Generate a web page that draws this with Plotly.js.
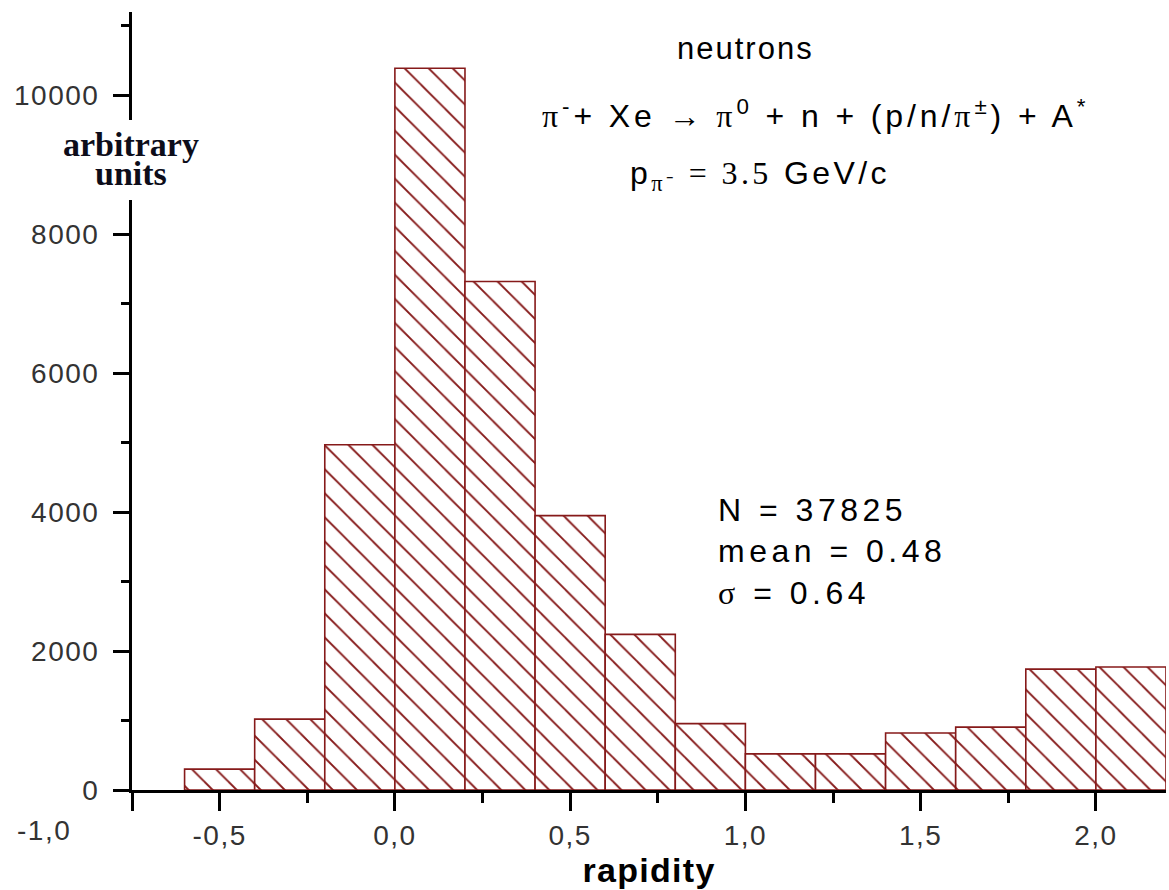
<!DOCTYPE html>
<html><head><meta charset="utf-8">
<script src="https://cdn.plot.ly/plotly-3.0.1.min.js"></script>
<style>html,body{margin:0;padding:0;background:#fff;}</style>
</head><body><div id="chart" style="width:1169px;height:890px;"></div>
<script>
// ---- data ----
const binStarts = [-0.6,-0.4,-0.2,0.0,0.2,0.4,0.6,0.8,1.0,1.2,1.4,1.6,1.8,2.0];
const binWidth = 0.2;
const counts = [300,1020,4970,10390,7320,3950,2240,955,520,520,820,905,1740,1770];
const xTickValues = [-0.75,-0.5,0,0.5,1,1.5,2];
const xTickLabels = ["","-0,5","0,0","0,5","1,0","1,5","2,0"];
const xOffLabelValue = -1.0;
const xOffLabelText = "-1,0";
const yTickValues = [0,2000,4000,6000,8000,10000];
const yTickLabels = ["0","2000","4000","6000","8000","10000"];
const xRange = [-0.75, 2.2];
const yRange = [0, 11200];

// ---- layout helpers ----
const W = 1169, H = 890;
const M = {l:132, r:3, t:12, b:100};
const PW = W - M.l - M.r, PH = H - M.t - M.b;
const px = x => (x - M.l) / PW;
const py = y => (H - M.b - y) / PH;
const ls = (t, s) => "<span style='letter-spacing:" + s + "px'>" + t + "</span>";

const barColor = "#861a1a";
const binCenters = binStarts.map(s => s + binWidth/2);

const trace = {
  type: "bar",
  x: binCenters,
  y: counts,
  width: binStarts.map(() => binWidth),
  marker: {
    color: "white",
    line: {color: barColor, width: 1.6},
    pattern: {shape: "\\", fgcolor: barColor, bgcolor: "white", fgopacity: 1, size: 17, solidity: 0.11, fillmode: "overlay"}
  },
  hoverinfo: "skip"
};

const arial = "Arial, sans-serif";
const times = "Liberation Serif";
const tickFont = {family: arial, size: 28, color: "#333"};
const tspan = t => "<span style='font-family:" + times + "'>" + t + "</span>";

const layout = {
  width: W, height: H,
  margin: M,
  paper_bgcolor: "white", plot_bgcolor: "white",
  showlegend: false,
  bargap: 0,
  xaxis: {
    range: xRange, tickmode: "array", tickvals: xTickValues, ticktext: xTickLabels.map(t => ls(t, 1.5)),
    showline: true, linecolor: "black", linewidth: 3, mirror: false,
    ticks: "outside", ticklen: 18, tickwidth: 3, tickcolor: "black",
    minor: {dtick: 0.25, tick0: 0, ticklen: 10, tickwidth: 3, tickcolor: "black", ticks: "outside"},
    showgrid: false, zeroline: false, tickfont: tickFont,
    title: {text: "<b>" + ls("rapidity", 1.3) + "</b>", font: {family: "Arial", size: 34, color: "black"}, standoff: 0}
  },
  yaxis: {
    range: yRange, tickmode: "array", tickvals: yTickValues, ticktext: yTickLabels.map(t => ls(t, 1.5)),
    showline: true, linecolor: "black", linewidth: 3,
    ticks: "outside", ticklen: 16, tickwidth: 3, tickcolor: "black", ticklabelstandoff: 8,
    minor: {dtick: 1000, tick0: 0, ticklen: 8, tickwidth: 3, tickcolor: "black", ticks: "outside"},
    showgrid: false, zeroline: false, tickfont: tickFont
  },
  shapes: [
    {type: "rect", xref: "paper", yref: "paper", x0: px(118), x1: px(146), y0: py(200), y1: py(120),
     fillcolor: "white", line: {width: 0}, layer: "above"}
  ],
  annotations: [
    {xref: "paper", yref: "paper", x: (xOffLabelValue - xRange[0])/(xRange[1]-xRange[0]), y: 0, yshift: -40,
     text: ls(xOffLabelText, 1.5), showarrow: false, font: tickFont, xanchor: "center", yanchor: "middle"},
    {xref: "paper", yref: "paper", x: px(131), y: py(144), text: "<b>arbitrary</b>", showarrow: false,
     font: {family: times, size: 34, color: "#0d0d1a"}, xanchor: "center", yanchor: "middle"},
    {xref: "paper", yref: "paper", x: px(131), y: py(174), text: "<b>units</b>", showarrow: false,
     font: {family: times, size: 34, color: "#0d0d1a"}, xanchor: "center", yanchor: "middle"},
    {xref: "paper", yref: "paper", x: px(745), y: py(49), text: ls("neutrons", 2), showarrow: false,
     font: {family: arial, size: 31, color: "black"}, xanchor: "center", yanchor: "middle"},
    {xref: "paper", yref: "paper", x: px(540), y: py(114), xanchor: "left", yanchor: "middle", showarrow: false,
     text: ls(tspan("π") + "<sup>-</sup>+ Xe " + tspan("→ π") + "<sup>0</sup> + n + (p/n/" + tspan("π") + "<sup>±</sup>) + A<sup>*</sup>", 3.9),
     font: {family: arial, size: 32, color: "black"}},
    {xref: "paper", yref: "paper", x: px(628), y: py(176), xanchor: "left", yanchor: "middle", showarrow: false,
     text: ls("p<sub>" + tspan("π⁻") + "</sub>" + tspan(" = 3.5") + " GeV/c", 3.4),
     font: {family: arial, size: 32, color: "black"}},
    {xref: "paper", yref: "paper", x: px(716), y: py(510), xanchor: "left", yanchor: "middle", showarrow: false,
     text: ls("N = 37825", 4.5), font: {family: arial, size: 32, color: "black"}},
    {xref: "paper", yref: "paper", x: px(716), y: py(551), xanchor: "left", yanchor: "middle", showarrow: false,
     text: ls("mean = 0.48", 4.5), font: {family: arial, size: 32, color: "black"}},
    {xref: "paper", yref: "paper", x: px(716), y: py(593), xanchor: "left", yanchor: "middle", showarrow: false,
     text: ls(tspan("σ") + " = 0.64", 4.5), font: {family: arial, size: 32, color: "black"}}
  ]
};

Plotly.newPlot("chart", [trace], layout, {displayModeBar: false, staticPlot: true});
</script></body></html>
